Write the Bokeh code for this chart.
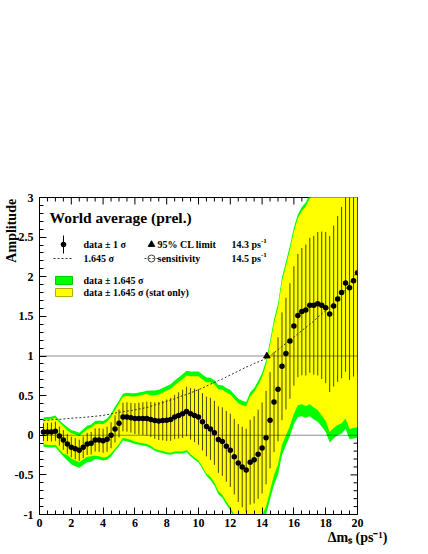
import numpy as np
from bokeh.plotting import figure
from bokeh.models import Range1d, SingleIntervalTicker, Span, Label
from bokeh.embed import file_html
from bokeh.resources import INLINE

# ---------------- data ----------------
dm = np.arange(0.25, 20.001, 0.25)  # scan points in Delta m_s (ps^-1)

amp = [0.04, 0.04, 0.04, 0.05, -0.01, -0.06, -0.11, -0.15, -0.17, -0.19,
       -0.15, -0.11, -0.10, -0.06, -0.06, -0.07, -0.05, 0.00, 0.08, 0.15,
       0.23, 0.23, 0.22, 0.21, 0.21, 0.21, 0.21, 0.20, 0.185, 0.18,
       0.185, 0.19, 0.20, 0.23, 0.25, 0.27, 0.30, 0.27, 0.25, 0.23,
       0.17, 0.11, 0.08, 0.03, -0.055, -0.08, -0.14, -0.19, -0.27, -0.35,
       -0.40, -0.44, -0.34, -0.31, -0.24, -0.16, -0.03, 0.19, 0.42, 0.58,
       0.87, 1.03, 1.19, 1.38, 1.51, 1.56, 1.58, 1.64, 1.64, 1.66,
       1.64, 1.61, 1.53, 1.63, 1.72, 1.80, 1.92, 1.86, 1.95, 2.05]

# 1.645 sigma (total): the dashed curve and the green band half-width
sens_tot = [0.185, 0.19, 0.195, 0.20, 0.20, 0.205, 0.21, 0.215, 0.22, 0.22,
            0.225, 0.23, 0.235, 0.24, 0.245, 0.25, 0.26, 0.27, 0.28, 0.29,
            0.295, 0.305, 0.31, 0.32, 0.33, 0.34, 0.35, 0.365, 0.38, 0.395,
            0.41, 0.43, 0.445, 0.46, 0.48, 0.50, 0.515, 0.535, 0.555, 0.575,
            0.595, 0.62, 0.645, 0.665, 0.69, 0.71, 0.735, 0.76, 0.785, 0.81,
            0.835, 0.86, 0.88, 0.905, 0.925, 0.945, 0.97, 1.00, 1.04, 1.08,
            1.12, 1.16, 1.20, 1.24, 1.28, 1.32, 1.36, 1.40, 1.44, 1.49,
            1.53, 1.57, 1.62, 1.67, 1.72, 1.78, 1.84, 1.91, 1.99, 2.08]

# 1.645 sigma (stat only), upper and lower extent of the yellow band
sens_stat_hi = [0.155, 0.16, 0.165, 0.17, 0.17, 0.175, 0.17, 0.175, 0.18, 0.18,
                0.185, 0.19, 0.195, 0.20, 0.205, 0.21, 0.22, 0.23, 0.24, 0.25,
                0.255, 0.265, 0.27, 0.28, 0.29, 0.30, 0.31, 0.305, 0.32, 0.335,
                0.35, 0.37, 0.385, 0.40, 0.42, 0.44, 0.455, 0.475, 0.495, 0.515,
                0.535, 0.56, 0.59, 0.61, 0.635, 0.655, 0.68, 0.705, 0.73, 0.755,
                0.78, 0.805, 0.83, 0.855, 0.875, 0.895, 0.92, 0.95, 0.99, 1.03,
                1.07, 1.11, 1.15, 1.19, 1.23, 1.27, 1.31, 1.35, 1.39, 1.44,
                1.48, 1.52, 1.57, 1.62, 1.67, 1.73, 1.79, 1.86, 1.94, 2.03]
sens_stat_lo = [0.155, 0.16, 0.165, 0.17, 0.17, 0.175, 0.14, 0.145, 0.15, 0.15,
                0.155, 0.16, 0.165, 0.20, 0.205, 0.21, 0.22, 0.23, 0.25, 0.26,
                0.265, 0.275, 0.28, 0.29, 0.30, 0.31, 0.32, 0.335, 0.355, 0.37,
                0.385, 0.405, 0.42, 0.435, 0.455, 0.475, 0.49, 0.51, 0.53, 0.55,
                0.57, 0.595, 0.605, 0.625, 0.65, 0.67, 0.695, 0.72, 0.735, 0.76,
                0.785, 0.81, 0.83, 0.855, 0.855, 0.855, 0.87, 0.89, 0.92, 0.95,
                0.99, 1.03, 1.07, 1.11, 1.13, 1.17, 1.21, 1.25, 1.29, 1.34,
                1.39, 1.43, 1.49, 1.54, 1.59, 1.65, 1.71, 1.78, 1.86, 1.95]

limit_95 = 14.3     # 95% CL limit (ps^-1)
sensitivity = 14.5  # sensitivity (ps^-1)

x_ticks = [0, 2, 4, 6, 8, 10, 12, 14, 16, 18, 20]
x_tick_labels = ["0", "2", "4", "6", "8", "10", "12", "14", "16", "18", "20"]
y_ticks = [-1, -0.5, 0, 0.5, 1, 1.5, 2, 2.5, 3]
y_tick_labels = ["-1", "-0.5", "0", "0.5", "1", "1.5", "2", "2.5", "3"]

title_text = "World average (prel.)"
x_title = "\u0394m\u209b (ps\u207b\u00b9)"
y_title = "Amplitude"
leg_data = "data \u00b1 1 \u03c3"
leg_sens = "1.645 \u03c3"
leg_lim = "95% CL limit"
leg_sensi = "sensitivity"
leg_green = "data \u00b1 1.645 \u03c3"
leg_yellow = "data \u00b1 1.645 \u03c3 (stat only)"

# ---------------- derived ----------------
amp = np.asarray(amp)
st = np.asarray(sens_tot)
sh = np.asarray(sens_stat_hi)
sl = np.asarray(sens_stat_lo)
sigma = st / 1.645

FONT = "Liberation Serif"
GREEN = "#00ff00"
YELLOW = "#ffff00"

# layout (canvas pixels)
W, H = 424, 550
L, T, FW, FH = 39, 197, 318, 317
MAJ, MIN = 7, 4

p = figure(width=W, height=H, x_range=Range1d(0, 20), y_range=Range1d(-1, 3),
           output_backend="svg", toolbar_location=None,
           min_border_left=L, min_border_top=T,
           min_border_right=W - L - FW, min_border_bottom=H - T - FH)
p.xgrid.visible = False
p.ygrid.visible = False
p.background_fill_color = "white"
p.border_fill_color = "white"
p.outline_line_color = "black"
p.outline_line_width = 1


def px2x(px):
    return (px - L) / FW * 20.0


def py2y(py):
    return 3.0 - (py - T) / FH * 4.0


def style_axis(ax, ticker, overrides, standoff, title_align):
    ax.ticker = ticker
    ax.major_tick_in = MAJ
    ax.major_tick_out = 0
    ax.minor_tick_in = MIN
    ax.minor_tick_out = 0
    ax.axis_line_color = "black"
    ax.major_tick_line_color = "black"
    ax.minor_tick_line_color = "black"
    ax.major_label_text_font = FONT
    ax.major_label_text_font_style = "bold"
    ax.major_label_text_color = "black"
    ax.major_label_text_font_size = "12px"
    ax.major_label_overrides = overrides
    ax.major_label_standoff = standoff
    ax.axis_label_text_font = FONT
    ax.axis_label_text_font_style = "bold"
    ax.axis_label_text_font_size = "14px"
    ax.axis_label_text_color = "black"
    ax.axis_label_text_align = title_align
    if "axis_label_align" in ax.properties():
        ax.axis_label_align = "end"


xax = p.xaxis[0]
yax = p.yaxis[0]
style_axis(xax, SingleIntervalTicker(interval=2, num_minor_ticks=4),
           {v: s for v, s in zip(x_ticks, x_tick_labels)}, 4, "right")
style_axis(yax, SingleIntervalTicker(interval=0.5, num_minor_ticks=5),
           {v: s for v, s in zip(y_ticks, y_tick_labels)}, 6, "center")
xax.axis_label = x_title
xax.axis_label_standoff = 0
# the vertical title is centred on the top end of the axis; trailing
# no-break spaces move the visible word down so that it hangs from the top
yax.axis_label = y_title + "\u00a0" * 19
yax.axis_label_standoff = -7

# ticks on the top and right edges of the frame (ROOT style, pointing in)
top_x = np.arange(0, 20.001, 0.5)
top_len = np.where(np.isclose(top_x % 2, 0) | np.isclose(top_x % 2, 2), MAJ, MIN) / FH * 4.0
p.segment(x0=top_x, y0=np.full_like(top_x, 3.0), x1=top_x, y1=3.0 - top_len,
          line_color="black", line_width=1)
right_y = np.round(np.arange(-1, 3.001, 0.1), 3)
rmaj = np.isclose((right_y * 10) % 5, 0) | np.isclose((right_y * 10) % 5, 5)
right_len = np.where(rmaj, MAJ, MIN) / FW * 20.0
p.segment(x0=np.full_like(right_y, 20.0), y0=right_y, x1=20.0 - right_len, y1=right_y,
          line_color="black", line_width=1)

# bands
p.varea(x=dm, y1=amp - st, y2=amp + st, fill_color=GREEN)
p.varea(x=dm, y1=amp - sl, y2=amp + sh, fill_color=YELLOW)

# reference lines
p.add_layout(Span(location=0, dimension="width", line_color="black", line_alpha=0.45, line_width=1))
p.add_layout(Span(location=1, dimension="width", line_color="black", line_alpha=0.45, line_width=1))

# error bars, sensitivity curve, points
p.segment(x0=dm, y0=amp - sigma, x1=dm, y1=amp + sigma, line_color="#1a1a00", line_width=1, line_alpha=0.8)
p.line(dm, st, line_color="#333333", line_width=1, line_dash="2 2")
p.scatter(dm, amp, marker="circle", size=5.5, fill_color="black", line_color=None)
p.scatter([limit_95], [1.0], marker="triangle", size=6.5, fill_color="black", line_color="black")


def lab(text, px, py, size, align="left", baseline="middle"):
    p.add_layout(Label(x=px2x(px), y=py2y(py), text=text, text_font=FONT,
                       text_font_style="bold", text_font_size=f"{size}px",
                       text_align=align, text_baseline=baseline,
                       text_color="black"))


# legend symbols
p.segment(x0=[px2x(63)], y0=[py2y(253)], x1=[px2x(63)], y1=[py2y(235)], line_color="black", line_width=1)
p.scatter([px2x(63)], [py2y(244)], marker="circle", size=5.5, fill_color="black", line_color=None)
p.line([px2x(53), px2x(72)], [py2y(258), py2y(258)], line_color="#333333", line_width=1, line_dash="2 2")
p.scatter([px2x(151)], [py2y(244)], marker="triangle", size=6.5, fill_color="black", line_color="black")
p.line([px2x(144), px2x(158)], [py2y(258), py2y(258)], line_color="#444444", line_width=1, line_dash="2 2")
p.scatter([px2x(151)], [py2y(258)], marker="circle", size=7, fill_color=None, line_color="#444444")
p.quad(left=[px2x(55)], right=[px2x(72)], top=[py2y(276)], bottom=[py2y(284)],
       fill_color=GREEN, line_color="#00cc00", line_width=1)
p.quad(left=[px2x(55)], right=[px2x(72)], top=[py2y(288)], bottom=[py2y(296)],
       fill_color=YELLOW, line_color="#b0b000", line_width=1)

# legend / title texts
lab(title_text, 49, 217, 15.5, baseline="alphabetic")
lab(leg_data, 83, 244, 10)
lab(leg_sens, 83, 258, 10)
lab(leg_lim, 157, 244, 10)
lab(leg_sensi, 157, 258, 10)
lab(f"{limit_95} ps", 231, 244, 10)
lab("-1", 260.5, 240, 7)
lab(f"{sensitivity} ps", 231, 258, 10)
lab("-1", 260.5, 254, 7)
lab(leg_green, 83, 280, 10)
lab(leg_yellow, 83, 292, 10)

html = file_html(p, INLINE)
open("out.html", "w").write(html)
